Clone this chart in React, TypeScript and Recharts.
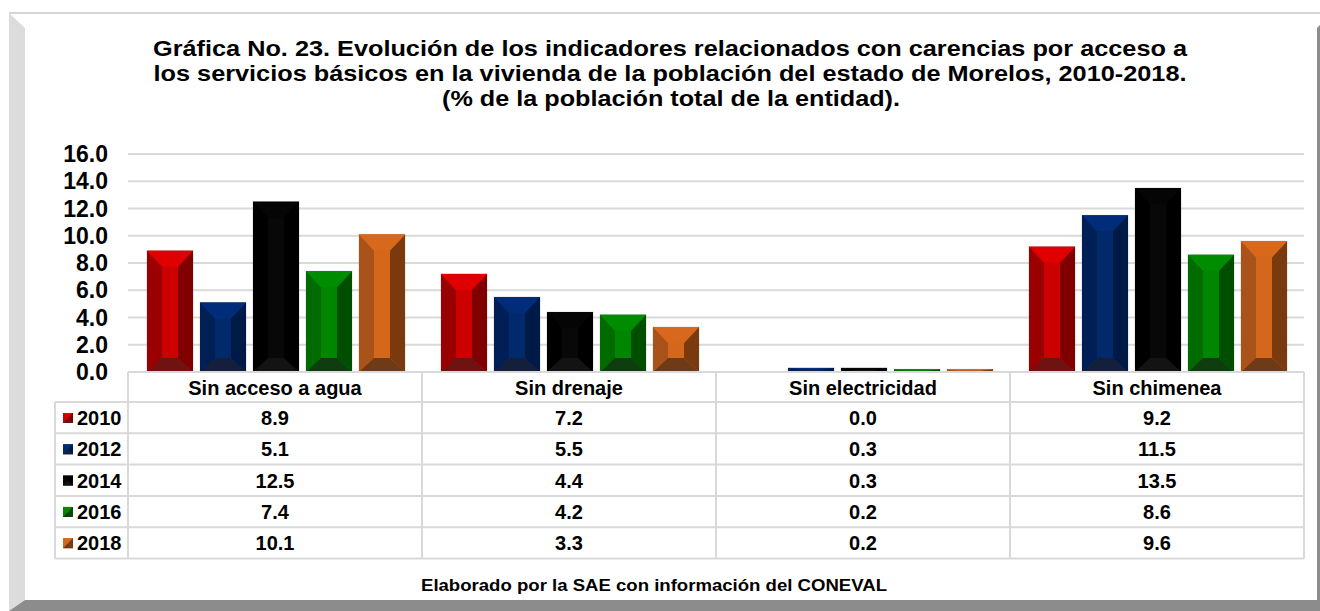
import React from "react";
import { BarChart, Bar, XAxis, YAxis, CartesianGrid } from "recharts";

// categories and values
const categories = ["Sin acceso a agua", "Sin drenaje", "Sin electricidad", "Sin chimenea"];
const years = ["2010", "2012", "2014", "2016", "2018"];
const v2010 = [8.9, 7.2, 0.0, 9.2];
const v2012 = [5.1, 5.5, 0.3, 11.5];
const v2014 = [12.5, 4.4, 0.3, 13.5];
const v2016 = [7.4, 4.2, 0.2, 8.6];
const v2018 = [10.1, 3.3, 0.2, 9.6];
const yTicks = [0, 2, 4, 6, 8, 10, 12, 14, 16];

const titleLines = [
  "Gráfica No. 23. Evolución de los indicadores relacionados con carencias por acceso a",
  "los servicios básicos en la vivienda de la población del estado de Morelos, 2010-2018.",
  "(% de la población total de la entidad).",
];
const footer = "Elaborado por la SAE con información del CONEVAL";

const seriesValues = [v2010, v2012, v2014, v2016, v2018];

// bevel shades per series: top, center, left, right, bottom
const palettes = [
  { top: "#e00000", center: "#cc0000", left: "#9a0000", right: "#800000", bottom: "#6e1212" },
  { top: "#002c7a", center: "#002a6c", left: "#001f56", right: "#001a48", bottom: "#141f3c" },
  { top: "#050505", center: "#080808", left: "#000000", right: "#000000", bottom: "#131313" },
  { top: "#008c00", center: "#008600", left: "#006c00", right: "#004f00", bottom: "#0f3d10" },
  { top: "#d8691c", center: "#d4671a", left: "#a9521a", right: "#7a3a0e", bottom: "#6e3a18" },
];

const data = categories.map((name, i) => {
  const row: Record<string, string | number> = { name };
  years.forEach((y, s) => {
    row["y" + y] = seriesValues[s][i];
  });
  return row;
});

const W = 1320;
const H = 611;
const M_LEFT = 58;
const Y_W = 70;
const M_RIGHT = 16;
const HALF = (W - M_LEFT - Y_W - M_RIGHT) / categories.length / 2;
const HEAD_H = 30;
const ROW_H = 31.3;
const LEG_W = 73;
const FONT = "Arial, 'Liberation Sans', sans-serif";
const GRID = "#d9d9d9";

// the title in the reference is drawn a bit wider than Arial
const titleWidths = [1034, 1033, 458];

function bevelBar(p: any) {
  const { x, y, width: w, height: h } = p;
  if (!h || h <= 0) return <g />;
  const c = palettes[p.series];
  const dx = Math.min(15, w * 0.33);
  const dt = Math.min(16, h / 2);
  const db = Math.min(14, h / 2);
  const pts = (a: number[][]) => a.map((q) => q.join(",")).join(" ");
  return (
    <g>
      <rect x={x} y={y} width={w} height={h} fill={c.center} stroke="rgba(0,0,0,0.15)" strokeWidth={1} />
      <polygon points={pts([[x, y], [x + dx, y + dt], [x + dx, y + h - db], [x, y + h]])} fill={c.left} />
      <polygon points={pts([[x + w, y], [x + w - dx, y + dt], [x + w - dx, y + h - db], [x + w, y + h]])} fill={c.right} />
      <polygon points={pts([[x, y], [x + w, y], [x + w - dx, y + dt], [x + dx, y + dt]])} fill={c.top} />
      <polygon points={pts([[x, y + h], [x + w, y + h], [x + w - dx, y + h - db], [x + dx, y + h - db]])} fill={c.bottom} />
    </g>
  );
}

function LegendSquare({ x, y, s }: { x: number; y: number; s: number }) {
  const c = palettes[s];
  const d = 10;
  return (
    <g>
      <rect x={x} y={y} width={d} height={d} fill={c.center} />
      <polygon points={`${x},${y} ${x + d},${y} ${x + d / 2},${y + d / 2}`} fill={c.top} />
      <polygon points={`${x + d},${y} ${x + d},${y + d} ${x + d / 2},${y + d / 2}`} fill={c.right} />
      <polygon points={`${x},${y + d} ${x + d},${y + d} ${x + d / 2},${y + d / 2}`} fill={c.bottom} />
    </g>
  );
}

// the data table under the chart is drawn as the x axis ticks
function TableTick(props: any) {
  const { x, y, payload } = props;
  const idx = categories.indexOf(payload.value);
  const left = x - HALF;
  const right = x + HALF;
  const bottom = y + HEAD_H + ROW_H * years.length;
  const txt = { fontFamily: FONT, fontWeight: 700, fontSize: 20, fill: "#000" };
  return (
    <g>
      <line x1={left} x2={right} y1={y} y2={y} stroke={GRID} strokeWidth={2} />
      <line x1={right} x2={right} y1={y} y2={bottom} stroke={GRID} strokeWidth={2} />
      {idx === 0 && <line x1={left} x2={left} y1={y} y2={bottom} stroke={GRID} strokeWidth={2} />}
      {idx === 0 && (
        <line x1={left - LEG_W} x2={left - LEG_W} y1={y + HEAD_H} y2={bottom} stroke={GRID} strokeWidth={2} />
      )}
      <text x={x} y={y + 23} textAnchor="middle" {...txt}>
        {payload.value}
      </text>
      {years.map((yr, s) => {
        const top = y + HEAD_H + ROW_H * s;
        return (
          <g key={yr}>
            <line x1={idx === 0 ? left - LEG_W : left} x2={right} y1={top} y2={top} stroke={GRID} strokeWidth={2} />
            <text x={x} y={top + 23} textAnchor="middle" {...txt}>
              {seriesValues[s][idx].toFixed(1)}
            </text>
            {idx === 0 && (
              <g>
                <LegendSquare x={left - LEG_W + 8} y={top + 11} s={s} />
                <text x={left - LEG_W + 22} y={top + 23} {...txt}>
                  {yr}
                </text>
              </g>
            )}
          </g>
        );
      })}
      <line x1={idx === 0 ? left - LEG_W : left} x2={right} y1={bottom} y2={bottom} stroke={GRID} strokeWidth={2} />
    </g>
  );
}

export default function App() {
  return (
    <div style={{ position: "absolute", left: 0, top: 0, width: W, height: H, background: "#fff" }}>
      <svg width={W} height={H} style={{ position: "absolute", left: 0, top: 0 }}>
        <rect x={9} y={12} width={W - 9} height={2} fill="#d6d6d6" />
        <polygon points="9,13 25,28 25,600 9,611" fill="#dcdcdc" />
        <polygon points="9,611 25,600 1320,600 1320,611" fill="#8c8c8c" />
        <polygon points="1317,28 1320,25 1320,611 1317,611" fill="#8c8c8c" />
        {titleLines.map((t, i) => (
          <text
            key={i}
            x={i === 2 ? 671 : 670}
            y={56 + i * 25}
            textAnchor="middle"
            fontFamily={FONT}
            fontWeight={700}
            fontSize={21.5}
            textLength={titleWidths[i]}
            lengthAdjust="spacingAndGlyphs"
            fill="#000"
          >
            {t}
          </text>
        ))}
        <text
          x={654}
          y={591}
          textAnchor="middle"
          fontFamily={FONT}
          fontWeight={700}
          fontSize={16.5}
          textLength={466}
          lengthAdjust="spacingAndGlyphs"
          fill="#000"
        >
          {footer}
        </text>
      </svg>
      <div style={{ position: "absolute", left: 0, top: 0 }}>
        <BarChart
          width={W}
          height={H}
          data={data}
          margin={{ top: 154, right: M_RIGHT, left: M_LEFT, bottom: 52 }}
          barCategoryGap={19}
          barGap={7}
        >
          <CartesianGrid vertical={false} stroke={GRID} strokeWidth={2} />
          <YAxis
            width={Y_W}
            domain={[0, 16]}
            ticks={yTicks}
            interval={0}
            axisLine={false}
            tickLine={false}
            tickSize={0}
            tickMargin={20}
            tickFormatter={(v: number) => v.toFixed(1)}
            tick={{ fill: "#000", fontSize: 23, fontWeight: 700, fontFamily: FONT }}
          />
          <XAxis
            dataKey="name"
            height={187}
            axisLine={false}
            tickLine={false}
            tickSize={0}
            tickMargin={0}
            interval={0}
            tick={<TableTick />}
          />
          {years.map((yr, s) => (
            <Bar
              key={yr}
              dataKey={"y" + yr}
              name={yr}
              fill={palettes[s].center}
              isAnimationActive={false}
              shape={(p: any) => bevelBar({ ...p, series: s })}
            />
          ))}
        </BarChart>
      </div>
    </div>
  );
}
